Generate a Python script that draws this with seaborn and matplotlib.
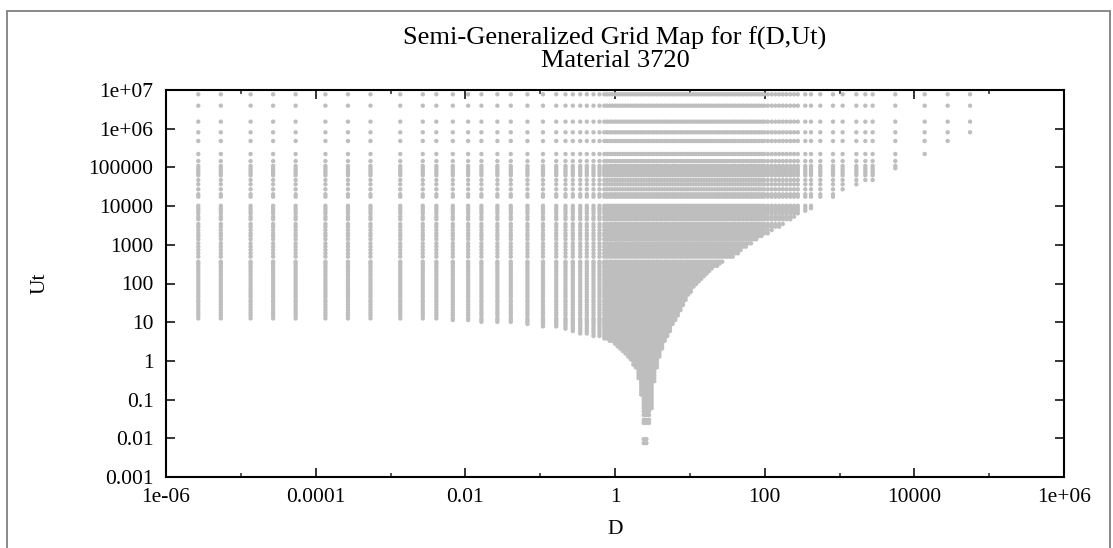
import numpy as np
import pandas as pd
import matplotlib
matplotlib.use("Agg")
import matplotlib.pyplot as plt
from matplotlib.ticker import FixedLocator, FixedFormatter, NullFormatter
from matplotlib.patches import Rectangle
import seaborn as sns

# ---------------- data ----------------
title_lines = ["Semi-Generalized Grid Map for f(D,Ut)", "Material 3720"]
x_label = "D"
y_label = "Ut"

# D position of every grid column
d_columns = [
    2.7e-6, 5.4e-6, 1.35e-5, 2.7e-5, 5.4e-5, 1.35e-4, 2.7e-4, 5.4e-4,
    1.35e-3, 2.7e-3, 4.1e-3, 6.8e-3, 0.0109, 0.0164, 0.0268, 0.0405,
    0.0676, 0.109, 0.164, 0.218, 0.273, 0.343, 0.42, 0.516, 0.62,
    0.72, 0.78, 0.85, 0.92, 1.0, 1.08, 1.17, 1.27, 1.38, 1.5, 1.62,
    1.76, 1.9, 2.06, 2.24, 2.42, 2.63, 2.85, 3.09, 3.35, 3.63, 3.93,
    4.26, 4.62, 5.0, 5.42, 5.88, 6.37, 6.9, 7.5, 8.1, 8.8, 9.5, 10.3,
    11.2, 12.1, 13.1, 14.2, 15.4, 16.7, 18.1, 19.6, 21.3, 23.1, 25.0,
    27.1, 29.4, 31.8, 34.5, 37.4, 40.5, 43.9, 47.6, 51.6, 56.0, 60.7,
    65.8, 71.3, 77.3, 83.8, 90.8, 98.4, 110, 124, 139, 156, 175, 196,
    220, 247, 277, 349, 416, 554, 819, 1101, 1679, 2214, 2772, 5569,
    13740, 27860, 55560,
]

# lowest Ut reached by each column (same order as d_columns)
ut_floor = [
    12.5, 12.5, 12.5, 12.5, 12.5, 12.3, 12.3, 12.2,
    12.0, 11.8, 11.6, 11.4, 10.7, 10.2, 9.8, 9.1,
    8.4, 7.6, 6.9, 6.2, 5.6, 5.1, 4.6, 4.3, 3.95,
    3.7, 3.5, 3.2, 3.0, 2.7, 2.4, 2.1, 1.8, 1.5, 1.3, 1.05,
    0.8, 0.6, 0.35, 0.12, 0.007, 0.0075, 0.025, 0.06, 0.3, 0.6, 1.2,
    2.0, 3.0, 4.0, 5.5, 8.0, 11, 15, 20, 27, 35, 48, 60,
    75, 90, 110, 130, 150, 170, 190, 220, 250, 280, 310,
    340, 370, 410, 450, 490, 540, 600, 680, 760, 850, 950,
    1050, 1150, 1250, 1400, 1550, 1700, 1900, 2150, 2450, 2800, 3200, 3700,
    4300, 5000, 5700, 6640, 7940, 10700, 16200, 21900, 31000, 37000, 45700, 85000,
    175000, 280000, 490000,
]

# Ut levels of the grid rows
ut_levels = [
    7.74e6, 3.93e6, 1.52e6, 8.07e5, 4.81e5, 2.22e5, 1.46e5, 1.09e5,
    9.5e4, 8.2e4, 7.2e4, 6.25e4, 4.72e4, 3.66e4, 2.72e4, 2.02e4, 1.75e4,
    1.02e4, 8.8e3, 7.6e3, 6.5e3, 5.3e3, 4.56e3, 3.45e3, 2.94e3, 2.41e3,
    1.98e3, 1.69e3, 1.39e3, 1.09e3, 894, 735, 603, 493, 366,
    330, 285, 245, 210, 180, 155, 132, 113, 97, 83, 71, 61, 52, 45, 38,
    33, 28, 24, 20.5, 17.5, 15, 12.5, 11.4, 10.2, 9.0, 7.8, 6.8, 5.9,
    5.1, 4.4, 3.8, 3.3, 2.8, 2.4, 2.1, 1.8, 1.55, 1.3, 1.1, 0.95, 0.8,
    0.68, 0.58, 0.5, 0.42, 0.36, 0.3, 0.26, 0.22, 0.19, 0.16, 0.135,
    0.115, 0.098, 0.083, 0.07, 0.06, 0.05, 0.04, 0.03, 0.025, 0.0095,
    0.0075,
]

x_tick_values = [1e-6, 1e-4, 1e-2, 1, 1e2, 1e4, 1e6]
x_tick_labels = ["1e-06", "0.0001", "0.01", "1", "100", "10000", "1e+06"]
x_minor_values = [1e-5, 1e-3, 1e-1, 1e1, 1e3, 1e5]
y_tick_values = [1e-3, 1e-2, 1e-1, 1, 10, 100, 1e3, 1e4, 1e5, 1e6, 1e7]
y_tick_labels = ["0.001", "0.01", "0.1", "1", "10", "100", "1000",
                 "10000", "100000", "1e+06", "1e+07"]

# ---------------- table of grid points ----------------
rows = [(d, u) for d, fl in zip(d_columns, ut_floor)
        for u in ut_levels if u >= fl * 0.999]
df = pd.DataFrame(rows, columns=["D", "Ut"])

# ---------------- figure ----------------
sns.set_style("ticks")
plt.rcParams["font.family"] = ["Liberation Serif", "DejaVu Serif"]

W, H = 1113, 548
fig = plt.figure(figsize=(W / 100, H / 100), dpi=100)
ax = fig.add_axes([166 / W, 1 - 477 / H, (1064 - 166) / W, (477 - 90) / H])

sns.scatterplot(data=df, x="D", y="Ut", ax=ax, color="#bebebe",
                s=10, linewidth=0, edgecolor="none", legend=False, zorder=2)

ax.set_xscale("log")
ax.set_yscale("log")
ax.set_xlim(1e-6, 1e6)
ax.set_ylim(1e-3, 1e7)

ax.xaxis.set_major_locator(FixedLocator(x_tick_values))
ax.xaxis.set_major_formatter(FixedFormatter(x_tick_labels))
ax.xaxis.set_minor_locator(FixedLocator(x_minor_values))
ax.xaxis.set_minor_formatter(NullFormatter())
ax.yaxis.set_major_locator(FixedLocator(y_tick_values))
ax.yaxis.set_major_formatter(FixedFormatter(y_tick_labels))
ax.yaxis.set_minor_locator(FixedLocator([]))

ax.tick_params(axis="both", which="major", direction="in", length=6.5,
               width=1.1, color="black", labelsize=15.5, top=True,
               right=True, labelcolor="black")
ax.tick_params(axis="x", which="major", pad=8)
ax.tick_params(axis="y", which="major", pad=9)
ax.tick_params(axis="x", which="minor", direction="in", length=3.2,
               width=1.1, top=True)

for sp in ax.spines.values():
    sp.set_visible(True)
    sp.set_linewidth(1.5)
    sp.set_color("black")
    sp.set_zorder(5)

ax.set_xlabel(x_label, fontsize=15.5, labelpad=9, color="black")
ax.set_ylabel(y_label, fontsize=15.5, labelpad=28, color="black")

fig.text(615 / W, 1 - 38 / H, title_lines[0], ha="center", va="center",
         fontsize=19, color="black")
fig.text(615 / W, 1 - 61 / H, title_lines[1], ha="center", va="center",
         fontsize=19, color="black")

fig.patches.append(Rectangle((7 / W, -0.05), (1110 - 7) / W, 1.05 - 11 / H,
                             transform=fig.transFigure, fill=False,
                             edgecolor="#808080", linewidth=1.3,
                             zorder=0))

fig.savefig("out.png", dpi=100)
